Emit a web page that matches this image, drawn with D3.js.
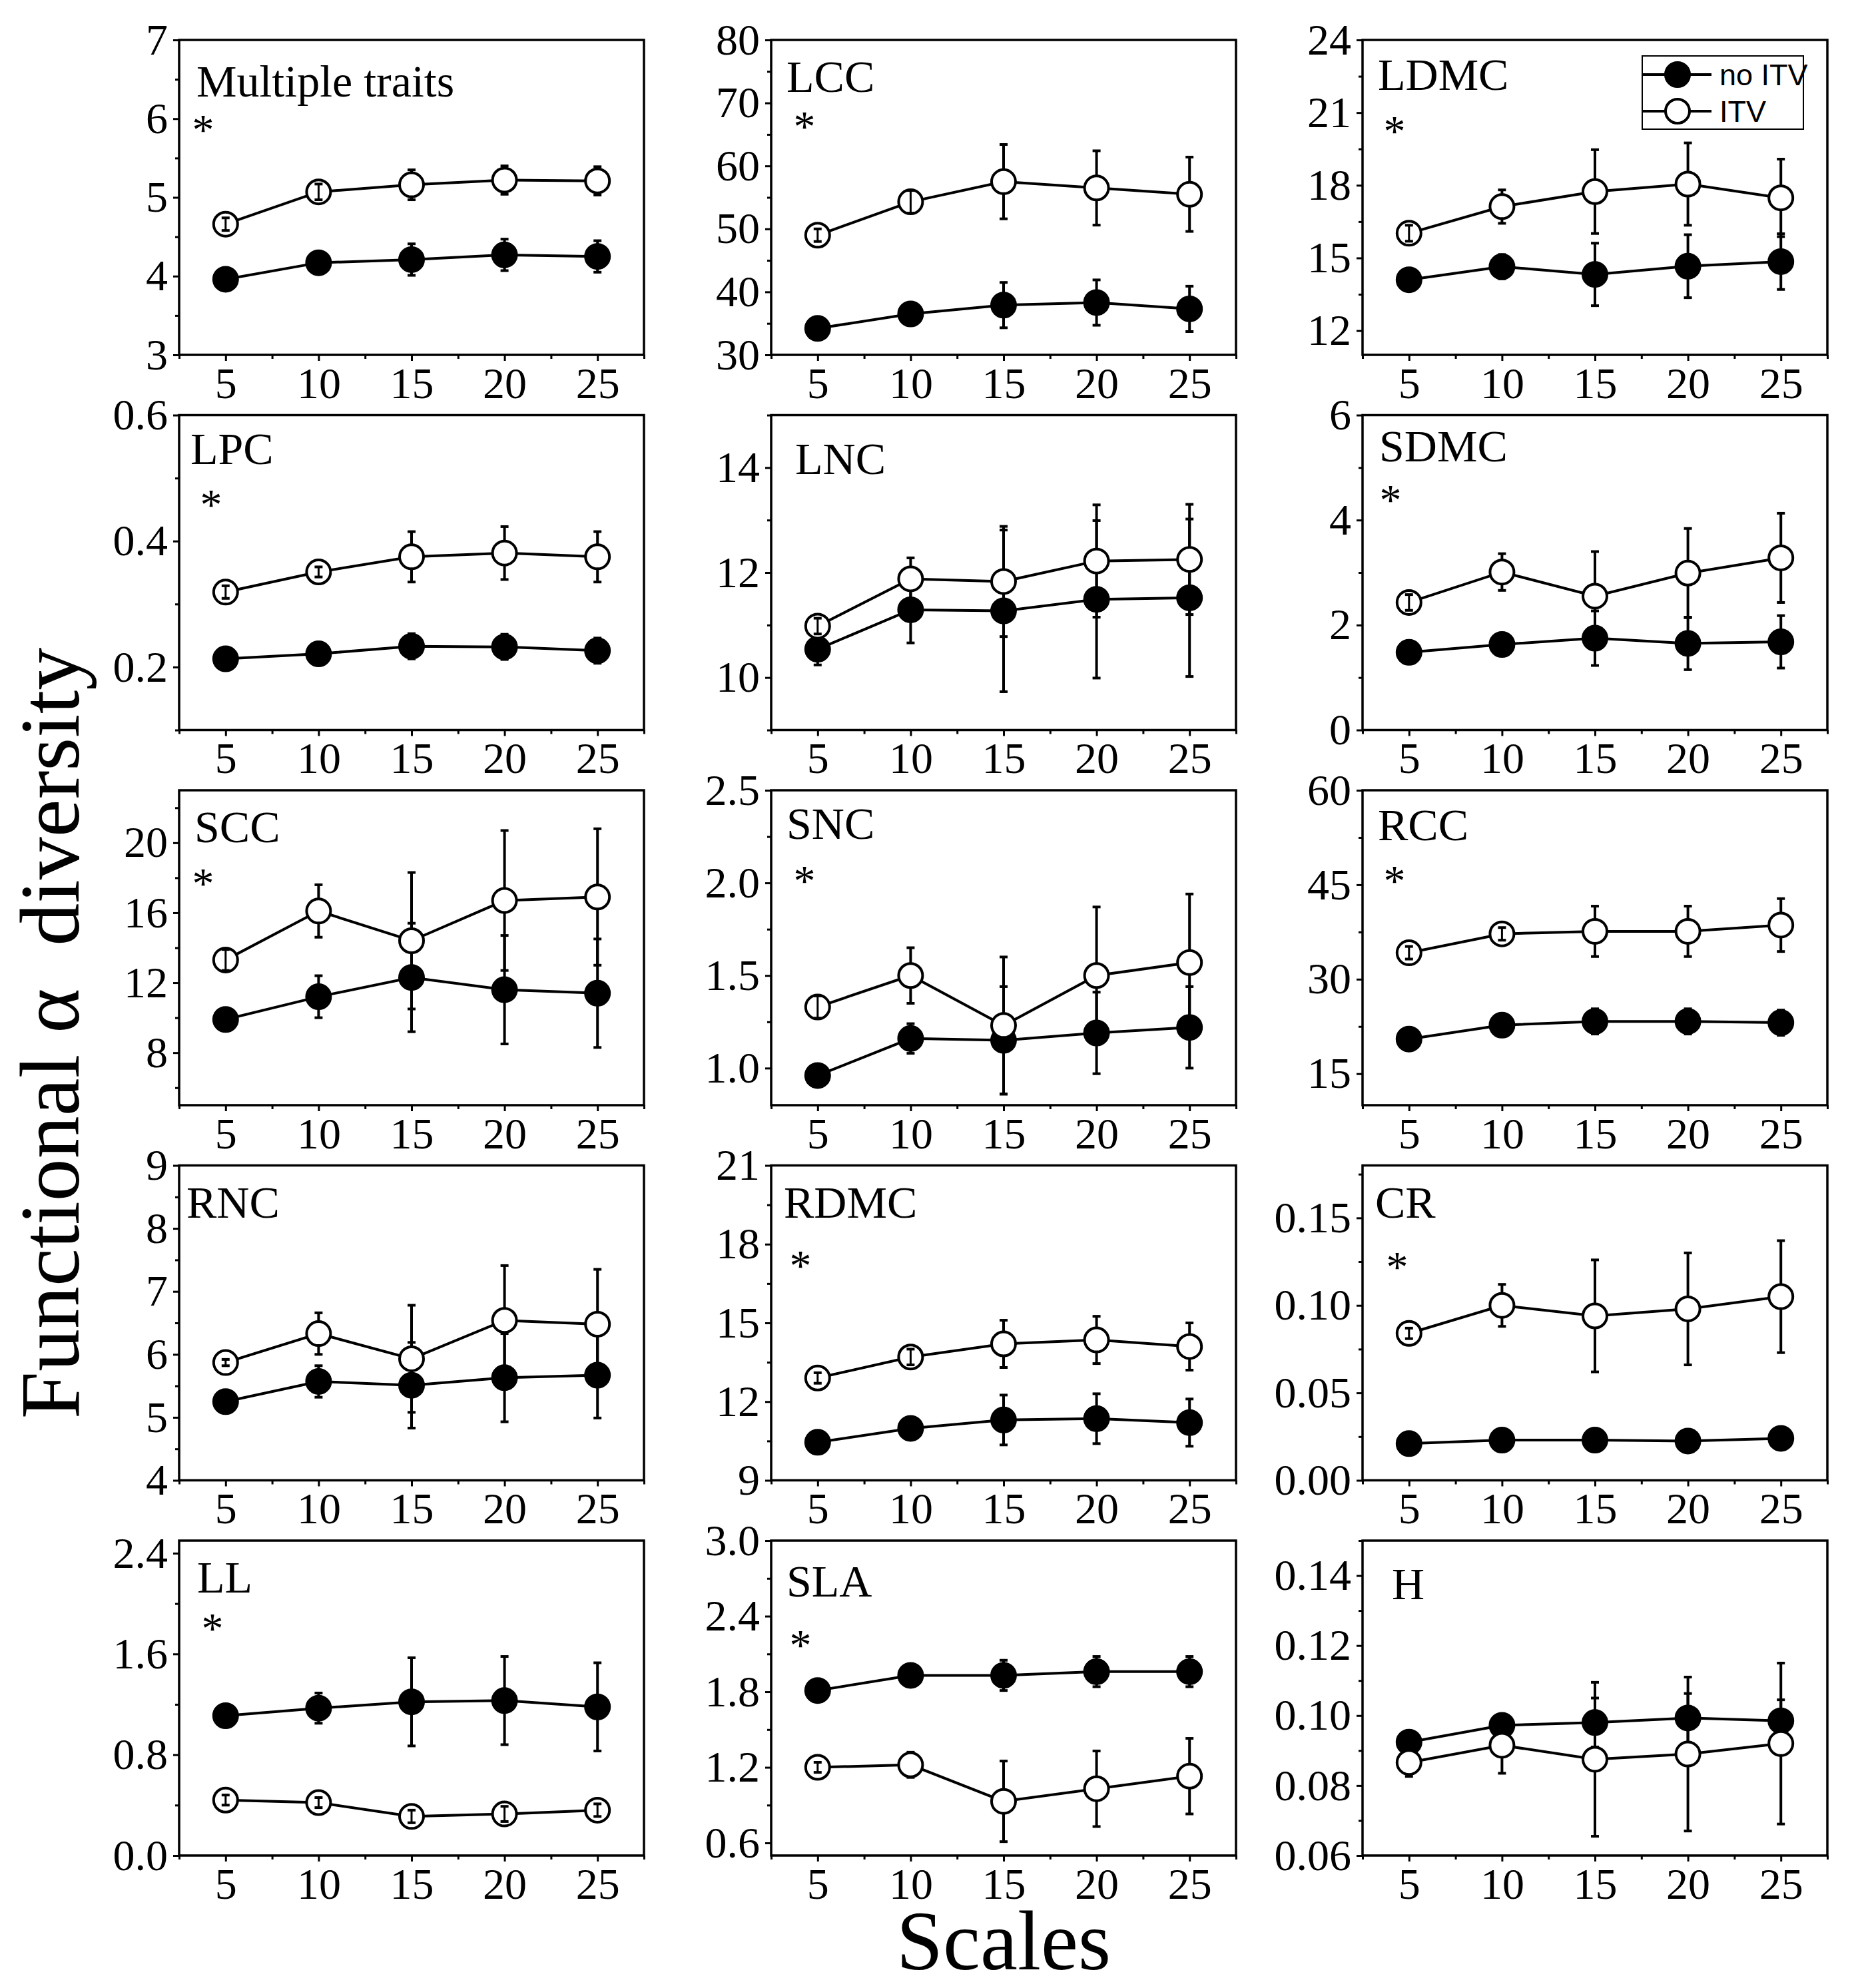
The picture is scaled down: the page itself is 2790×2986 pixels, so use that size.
<!DOCTYPE html>
<html>
<head>
<meta charset="utf-8">
<script src="https://cdn.jsdelivr.net/npm/d3@7"></script>
<style>
body { margin: 0; background: #fff; }
text { font-family: "Liberation Serif", "Times New Roman", serif; fill: #000; }
text.legend { font-family: "Liberation Sans", Arial, sans-serif; }
</style>
</head>
<body>
<div id="chart"></div>
<script>
// scales (x) and panels
const scales = [5, 10, 15, 20, 25];
const xMinor = [2.5, 7.5, 12.5, 17.5, 22.5, 27.5];
const traits = ["Multiple traits", "LCC", "LDMC", "LPC", "LNC", "SDMC", "SCC", "SNC", "RCC", "RNC", "RDMC", "CR", "LL", "SLA", "H"];
const signif = [true, true, true, true, false, true, true, true, true, false, true, true, true, true, false];

const yDomains = [[3, 7], [30, 80], [11, 24], [0.1, 0.6], [9, 15], [0, 6], [5, 23], [0.8, 2.5], [10, 60], [4, 9], [9, 21], [0, 0.18], [0, 2.5], [0.5, 3.0], [0.06, 0.15]];
const yTicks = [[3, 4, 5, 6, 7], [30, 40, 50, 60, 70, 80], [12, 15, 18, 21, 24], [0.2, 0.4, 0.6], [10, 12, 14], [0, 2, 4, 6], [8, 12, 16, 20], [1.0, 1.5, 2.0, 2.5], [15, 30, 45, 60], [4, 5, 6, 7, 8, 9], [9, 12, 15, 18, 21], [0, 0.05, 0.10, 0.15], [0, 0.8, 1.6, 2.4], [0.6, 1.2, 1.8, 2.4, 3.0], [0.06, 0.08, 0.10, 0.12, 0.14]];
const tickFormats = ["d", "d", "d", ".1f", "d", "d", "d", ".1f", "d", "d", "d", ".2f", ".1f", ".1f", ".2f"];

// no ITV (filled)
const noItvMean = [
  [3.96, 4.17, 4.21, 4.27, 4.25],
  [34.2, 36.5, 37.9, 38.3, 37.3],
  [14.1, 14.64, 14.32, 14.66, 14.85],
  [0.213, 0.221, 0.233, 0.232, 0.226],
  [10.54, 11.29, 11.27, 11.49, 11.52],
  [1.48, 1.63, 1.75, 1.65, 1.68],
  [9.9, 11.2, 12.3, 11.6, 11.4],
  [0.96, 1.16, 1.15, 1.19, 1.22],
  [20.5, 22.7, 23.3, 23.3, 23.1],
  [5.25, 5.57, 5.51, 5.63, 5.67],
  [10.45, 10.98, 11.3, 11.35, 11.2],
  [0.021, 0.023, 0.023, 0.0225, 0.024],
  [1.11, 1.17, 1.22, 1.23, 1.18],
  [1.81, 1.93, 1.93, 1.96, 1.96],
  [0.0924, 0.0972, 0.098, 0.0993, 0.0985]
];
const noItvErr = [
  [0.04, 0.08, 0.2, 0.2, 0.2],
  [0.6, 1.0, 3.6, 3.6, 3.6],
  [0.2, 0.5, 1.29, 1.3, 1.15],
  [0.006, 0.008, 0.02, 0.02, 0.02],
  [0.3, 0.63, 1.54, 1.5, 1.5],
  [0.06, 0.1, 0.52, 0.5, 0.5],
  [0.3, 1.2, 3.1, 3.1, 3.1],
  [0.03, 0.08, 0.29, 0.22, 0.22],
  [0.6, 1.0, 2.0, 2.0, 2.0],
  [0.1, 0.25, 0.68, 0.7, 0.68],
  [0.15, 0.3, 0.95, 0.95, 0.9],
  [0.001, 0.002, 0.002, 0.002, 0.002],
  [0.04, 0.12, 0.35, 0.35, 0.35],
  [0.03, 0.05, 0.12, 0.12, 0.12],
  [0.002, 0.003, 0.007, 0.007, 0.006]
];

// ITV (open)
const itvMean = [
  [4.66, 5.07, 5.16, 5.22, 5.21],
  [49.0, 54.3, 57.5, 56.5, 55.5],
  [16.02, 17.12, 17.74, 18.05, 17.48],
  [0.319, 0.351, 0.375, 0.381, 0.375],
  [10.98, 11.88, 11.83, 12.22, 12.25],
  [2.43, 3.01, 2.55, 2.99, 3.28],
  [13.3, 16.1, 14.4, 16.7, 16.9],
  [1.33, 1.50, 1.23, 1.50, 1.57],
  [34.2, 37.2, 37.6, 37.6, 38.6],
  [5.87, 6.33, 5.93, 6.54, 6.48],
  [12.9, 13.7, 14.2, 14.35, 14.1],
  [0.084, 0.100, 0.094, 0.098, 0.105],
  [0.44, 0.42, 0.31, 0.33, 0.36],
  [1.20, 1.22, 0.93, 1.03, 1.13],
  [0.0866, 0.0915, 0.0875, 0.089, 0.092]
];
const itvErr = [
  [0.08, 0.1, 0.19, 0.18, 0.18],
  [1.0, 1.8, 5.9, 5.9, 5.9],
  [0.33, 0.69, 1.73, 1.7, 1.6],
  [0.01, 0.008, 0.04, 0.042, 0.04],
  [0.15, 0.4, 1.05, 1.07, 1.05],
  [0.15, 0.35, 0.85, 0.85, 0.85],
  [0.6, 1.5, 3.9, 4.0, 3.9],
  [0.06, 0.15, 0.37, 0.37, 0.37],
  [1.0, 1.0, 4.0, 4.0, 4.2],
  [0.05, 0.33, 0.85, 0.87, 0.87],
  [0.2, 0.3, 0.9, 0.9, 0.9],
  [0.003, 0.012, 0.032, 0.032, 0.032],
  [0.04, 0.04, 0.05, 0.06, 0.05],
  [0.04, 0.1, 0.32, 0.3, 0.3],
  [0.004, 0.008, 0.022, 0.022, 0.023]
];

// layout
const colX = [269, 1158, 2046];
const rowY = [60, 623.5, 1187, 1750.5, 2314];
const pw = 698, ph = 473;
const labelPos = [[26, 85], [23, 78], [23, 75], [17, 73], [36, 88], [25, 69], [23, 78], [23, 73], [23, 75], [11, 78], [19, 78], [19, 78], [27, 78], [23, 84], [44, 88]];
const starPos = [[36, 123], [50, 118], [48, 125], [48, 122], null, [42, 115], [36, 128], [50, 124], [48, 124], null, [44, 138], [52, 140], [50, 120], [44, 145], null];
const r = 18;

const svg = d3.select("#chart")
  .append("svg")
  .attr("width", 2790)
  .attr("height", 2986);

svg.append("rect").attr("width", 2790).attr("height", 2986).attr("fill", "#fff");

traits.forEach(function(name, i) {
  const col = i % 3, row = Math.floor(i / 3);
  const g = svg.append("g")
    .attr("transform", "translate(" + colX[col] + "," + rowY[row] + ")");

  const x = d3.scaleLinear().domain([2.5, 27.5]).range([0, pw]);
  const y = d3.scaleLinear().domain(yDomains[i]).range([ph, 0]);

  const ticks = yTicks[i];
  const step = ticks[1] - ticks[0];
  const dom = yDomains[i];
  const yMinor = ticks.map(function(t) { return t - step / 2; })
    .concat([ticks[ticks.length - 1] + step / 2])
    .filter(function(t) { return t >= dom[0] - 1e-9 && t <= dom[1] + 1e-9; });

  // x axis
  g.append("g")
    .attr("transform", "translate(0," + ph + ")")
    .call(d3.axisBottom(x).tickValues(xMinor).tickSize(6).tickFormat(""));
  g.append("g")
    .attr("transform", "translate(0," + ph + ")")
    .call(d3.axisBottom(x).tickValues(scales).tickSize(9).tickPadding(9).tickFormat(d3.format("d")));

  // y axis
  g.append("g")
    .call(d3.axisLeft(y).tickValues(yMinor).tickSize(6).tickFormat(""));
  g.append("g")
    .call(d3.axisLeft(y).tickValues(ticks).tickSize(9).tickPadding(8).tickFormat(d3.format(tickFormats[i])));

  g.selectAll(".domain").remove();
  g.selectAll(".tick line").attr("stroke", "#000").attr("stroke-width", 3);
  g.selectAll(".tick text")
    .attr("font-size", 66)
    .attr("fill", "#000");

  // frame
  g.append("rect")
    .attr("width", pw)
    .attr("height", ph)
    .attr("fill", "none")
    .attr("stroke", "#000")
    .attr("stroke-width", 3.5);

  const series = [
    { mean: itvMean[i], err: itvErr[i], fill: "#fff" },
    { mean: noItvMean[i], err: noItvErr[i], fill: "#000" }
  ];

  const line = d3.line()
    .x(function(d, k) { return x(scales[k]); })
    .y(function(d) { return y(d); });

  series.forEach(function(s) {
    g.append("path")
      .datum(s.mean)
      .attr("fill", "none")
      .attr("stroke", "#000")
      .attr("stroke-width", 4)
      .attr("d", line);
  });

  // error bars: stems outside the marker, caps on top
  function errorBars(s) {
    s.mean.forEach(function(v, k) {
      const cx = x(scales[k]);
      const cy = y(v);
      const top = y(v + s.err[k]);
      const bot = y(v - s.err[k]);
      if (cy - top > r) {
        g.append("line").attr("x1", cx).attr("x2", cx).attr("y1", top).attr("y2", cy - r)
          .attr("stroke", "#000").attr("stroke-width", 4);
        g.append("line").attr("x1", cx).attr("x2", cx).attr("y1", cy + r).attr("y2", bot)
          .attr("stroke", "#000").attr("stroke-width", 4);
      } else {
        g.append("line").attr("x1", cx).attr("x2", cx).attr("y1", top).attr("y2", bot)
          .attr("stroke", "#000").attr("stroke-width", 3);
      }
      [top, bot].forEach(function(yy) {
        g.append("line").attr("x1", cx - 6).attr("x2", cx + 6).attr("y1", yy).attr("y2", yy)
          .attr("stroke", "#000")
          .attr("stroke-width", 4);
      });
    });
  }

  [series[1], series[0]].forEach(function(s) {
    g.selectAll(null)
      .data(s.mean)
      .enter()
      .append("circle")
      .attr("cx", function(d, k) { return x(scales[k]); })
      .attr("cy", function(d) { return y(d); })
      .attr("r", r)
      .attr("fill", s.fill)
      .attr("stroke", "#000")
      .attr("stroke-width", 4);
    errorBars(s);
  });

  // panel label
  g.append("text")
    .attr("x", labelPos[i][0])
    .attr("y", labelPos[i][1])
    .attr("font-size", 68)
    .text(name);

  if (signif[i]) {
    g.append("text")
      .attr("x", starPos[i][0])
      .attr("y", starPos[i][1] + 34)
      .attr("text-anchor", "middle")
      .attr("font-size", 66)
      .text("*");
  }

  // legend
  if (i === 2) {
    const lg = g.append("g").attr("transform", "translate(420,24)");
    lg.append("rect")
      .attr("width", 242)
      .attr("height", 110)
      .attr("fill", "#fff")
      .attr("stroke", "#000")
      .attr("stroke-width", 2);
    [["no ITV", "#000", 28], ["ITV", "#fff", 83]].forEach(function(e) {
      lg.append("line").attr("x1", 0).attr("x2", 104).attr("y1", e[2]).attr("y2", e[2])
        .attr("stroke", "#000").attr("stroke-width", 4);
      lg.append("circle").attr("cx", 53).attr("cy", e[2]).attr("r", r)
        .attr("fill", e[1]).attr("stroke", "#000").attr("stroke-width", 4);
      lg.append("text")
        .attr("class", "legend")
        .attr("x", 116)
        .attr("y", e[2] + 16)
        .attr("font-size", 45)
        .text(e[0]);
    });
  }
});

// axis titles
svg.append("text")
  .attr("x", 1507)
  .attr("y", 2958)
  .attr("text-anchor", "middle")
  .attr("font-size", 126)
  .text("Scales");

svg.append("text")
  .attr("transform", "translate(118,1552) rotate(-90)")
  .attr("text-anchor", "middle")
  .attr("font-size", 128)
  .style("white-space", "pre")
  .text("Functional \u03b1  diversity");
</script>
</body>
</html>
